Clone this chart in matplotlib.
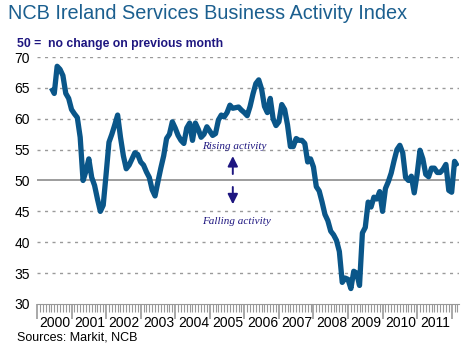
import matplotlib
matplotlib.use("Agg")
import matplotlib.pyplot as plt
import numpy as np

# monthly index values (2000 starts in May)
pmi_2000 = [65.0, 64.1, 68.5, 68.0, 67.0, 64.1, 63.3, 61.5]
pmi_2001 = [60.8, 60.2, 57.0, 50.0, 51.5, 53.5, 50.5, 49.2, 47.0, 45.0, 46.0, 51.0]
pmi_2002 = [56.2, 57.5, 59.0, 60.6, 57.0, 54.0, 51.9, 52.5, 53.5, 54.5, 54.2, 53.0]
pmi_2003 = [52.5, 51.4, 50.5, 48.5, 47.5, 49.8, 52.0, 54.0, 56.8, 57.5, 59.5, 58.5]
pmi_2004 = [57.3, 56.5, 56.0, 58.5, 59.3, 56.5, 59.3, 58.3, 57.0, 57.5, 58.7, 58.0]
pmi_2005 = [57.3, 57.6, 59.8, 60.6, 60.3, 61.0, 62.2, 61.7, 61.8, 61.9, 61.4, 61.0]
pmi_2006 = [60.5, 62.0, 64.0, 65.7, 66.3, 64.8, 62.0, 61.0, 63.3, 60.0, 58.9, 59.5]
pmi_2007 = [62.3, 61.5, 59.0, 55.5, 55.5, 56.8, 56.5, 56.5, 56.0, 53.0, 53.5, 52.2]
pmi_2008 = [49.0, 48.3, 46.5, 44.5, 43.5, 41.8, 41.2, 40.3, 38.5, 33.5, 34.2, 34.0]
pmi_2009 = [32.5, 35.3, 35.0, 33.0, 41.5, 42.4, 46.5, 45.7, 47.3, 47.0, 48.2, 45.0]
pmi_2010 = [48.7, 49.8, 51.2, 53.2, 55.0, 55.7, 54.5, 50.5, 50.0, 50.7, 48.0, 51.0]
pmi_2011 = [54.9, 53.5, 51.0, 50.6, 52.0, 52.0, 51.3, 51.3, 51.8, 52.6, 48.4, 48.1]
pmi_2012 = [53.1, 52.3]

years = ["2000", "2001", "2002", "2003", "2004", "2005",
         "2006", "2007", "2008", "2009", "2010", "2011"]
y_ticks = [30, 35, 40, 45, 50, 55, 60, 65, 70]
first_month = 4  # May 2000

values = (pmi_2000 + pmi_2001 + pmi_2002 + pmi_2003 + pmi_2004 + pmi_2005 +
          pmi_2006 + pmi_2007 + pmi_2008 + pmi_2009 + pmi_2010 + pmi_2011 + pmi_2012)
months = np.arange(first_month, first_month + len(values)) + 1

plt.rcParams['font.family'] = ['Liberation Sans', 'DejaVu Sans']

fig = plt.figure(figsize=(4.76, 3.55), dpi=100)
ax = fig.add_axes([0.0777, 0.1437, 0.8863, 0.6957])

navy = '#1e1680'
line_blue = '#0a5689'

# grid
for v in y_ticks[1:]:
    if v == 50:
        ax.axhline(v, color='#8c8c8c', lw=1.2, zorder=1)
    else:
        ax.axhline(v, color='#9a9a9a', lw=1.0, ls=(0, (2.2, 3.2)), zorder=1)

ax.plot(months, values, color=line_blue, lw=3.8, solid_capstyle='butt',
        solid_joinstyle='round', zorder=3)

ax.set_ylim(30, 70)
ax.set_xlim(0, 146.5)
ax.set_yticks(y_ticks)
ax.tick_params(axis='y', length=0, pad=5, labelsize=10)

ax.set_xticks(np.arange(0, 145, 12))
ax.set_xticks(np.arange(0, 147, 1), minor=True)
ax.set_xticklabels([])
ax.tick_params(axis='x', which='major', length=11, width=1.2, color='#999999')
ax.tick_params(axis='x', which='minor', length=5.5, width=0.8, color='#999999')

for i, yr in enumerate(years):
    ax.text(i * 12 + 6.3, -0.078, yr, transform=ax.get_xaxis_transform(),
            ha='center', va='center', fontsize=10)

for s in ['top', 'right', 'left']:
    ax.spines[s].set_visible(False)
ax.spines['bottom'].set_color('#999999')

# annotations
ax.annotate('', xy=(68, 54.4), xytext=(68, 50.6),
            arrowprops=dict(arrowstyle='-|>,head_width=0.3,head_length=0.6',
                            color=navy, lw=1.4))
ax.annotate('', xy=(68, 45.7), xytext=(68, 49.4),
            arrowprops=dict(arrowstyle='-|>,head_width=0.3,head_length=0.6',
                            color=navy, lw=1.4))
ax.text(68.6, 55.5, 'Rising activity', family='Liberation Serif', style='italic',
        color=navy, fontsize=8, ha='center', va='center')
ax.text(69.2, 43.4, 'Falling activity', family='Liberation Serif', style='italic',
        color=navy, fontsize=8, ha='center', va='center')

fig.text(0.017, 0.962, 'NCB Ireland Services Business Activity Index',
         color='#1b5f8f', fontsize=14.3, ha='left', va='center')
fig.text(0.036, 0.875, '50 =  no change on previous month', color=navy,
         fontsize=8.8, fontweight='bold', ha='left', va='center')
fig.text(0.036, 0.048, 'Sources: Markit, NCB', fontsize=9, ha='left', va='center')

fig.savefig('out.png', dpi=100)
